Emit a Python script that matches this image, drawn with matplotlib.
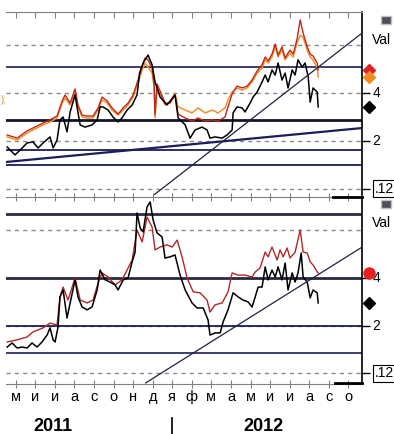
import numpy as np
import matplotlib
matplotlib.use('Agg')
import matplotlib.pyplot as plt
from matplotlib.patches import Rectangle

plt.rcParams['font.family'] = ['Liberation Sans', 'DejaVu Sans']

# months counted from May 2011 (0) to Oct 2012 (17)
month_labels = ['м', 'и', 'и', 'а', 'с', 'о', 'н', 'д', 'я', 'ф', 'м', 'а', 'м', 'и', 'и', 'а', 'с', 'о']
years = ['2011', '2012']
year_pos = [1.9, 12.65]

# ---- top panel series
top_black_x = [-0.44, -0.04, 0.22, 0.58, 0.88, 1.14, 1.40, 1.75, 1.91, 2.11, 2.26, 2.42, 2.62, 2.78, 3.03, 3.13,
               3.29, 3.54, 3.90, 4.16, 4.31, 4.46, 4.72, 4.97, 5.23, 5.43, 5.69, 5.95, 6.20, 6.33, 6.51, 6.76,
               6.97, 7.12, 7.38, 7.73, 8.14, 8.30, 8.66, 8.91, 9.17, 9.52, 9.78, 9.93, 10.19, 10.55, 10.80, 11.06,
               11.11, 11.31, 11.57, 11.72, 11.98, 12.13, 12.34, 12.59, 12.75, 12.90, 13.10, 13.26, 13.41, 13.61,
               13.77, 13.92, 14.13, 14.28, 14.43, 14.64, 14.79, 14.95, 15.05, 15.20, 15.41, 15.46]
top_black_y = [1.75, 1.42, 1.62, 1.92, 1.96, 1.71, 1.92, 2.17, 1.71, 2.04, 2.88, 3.00, 2.38, 3.21, 3.92, 3.42,
               2.67, 2.58, 2.67, 2.88, 3.42, 3.42, 3.29, 3.00, 2.79, 2.96, 3.29, 3.50, 3.92, 4.83, 5.25, 5.58,
               5.17, 4.46, 3.83, 3.50, 3.92, 2.96, 2.67, 2.12, 2.46, 2.58, 2.46, 2.12, 2.17, 2.12, 2.25, 2.46,
               3.17, 3.42, 3.38, 3.21, 3.58, 3.83, 4.04, 4.46, 4.75, 4.46, 4.96, 4.75, 5.25, 4.54,
               4.83, 4.21, 4.96, 4.75, 5.38, 5.08, 5.25, 4.67, 3.62, 4.21, 4.04, 3.42]

top_col_x = [-0.44, 0.07, 0.58, 0.88, 1.40, 1.75, 2.11, 2.37, 2.52, 2.78, 3.03, 3.18, 3.39, 3.65, 3.95, 4.21,
             4.41, 4.67, 4.92, 5.23, 5.49, 5.74, 6.00, 6.25, 6.46, 6.61, 6.76, 6.97, 7.07, 7.12, 7.22, 7.38,
             7.63, 7.89, 8.14, 8.30, 8.66, 9.01, 9.32, 9.68, 10.04, 10.34, 10.70, 10.85, 11.06, 11.31, 11.57,
             11.83, 12.08, 12.34, 12.59, 12.75, 12.90, 13.10, 13.26, 13.41, 13.61, 13.77, 14.02, 14.18, 14.38,
             14.54, 14.69, 14.90, 15.05, 15.20, 15.41, 15.46]
top_orange_y = [2.17, 2.04, 2.33, 2.46, 2.67, 2.79, 2.96, 3.58, 3.79, 3.50, 4.04, 3.42, 3.00, 2.96, 2.96, 3.29,
                3.71, 3.58, 3.29, 3.08, 3.29, 3.50, 3.83, 4.42, 4.96, 5.25, 5.08, 4.83, 4.25, 2.96, 4.25, 4.00,
                3.50, 3.62, 4.00, 3.42, 3.29, 3.17, 3.38, 3.17, 3.29, 3.17, 3.38, 3.71, 4.04, 4.21, 4.12,
                4.21, 4.46, 4.83, 5.04, 5.38, 5.25, 5.50, 5.92, 5.50, 5.79, 5.38, 5.67, 5.50, 6.08,
                6.40, 6.33, 5.79, 5.50, 5.38, 5.04, 4.67]
top_red_y = [2.25, 2.12, 2.42, 2.54, 2.75, 2.88, 3.04, 3.67, 3.92, 3.58, 4.17, 3.50, 3.08, 3.04, 3.04, 3.38,
             3.83, 3.67, 3.38, 3.12, 3.38, 3.58, 3.92, 4.54, 5.12, 5.46, 5.38, 5.00, 4.42, 3.10, 4.38, 4.08,
             3.58, 3.58, 3.92, 3.12, 2.96, 2.83, 2.96, 2.83, 2.88, 2.83, 3.00, 3.42, 3.96, 4.29, 4.21,
             4.29, 4.54, 4.92, 5.17, 5.50, 5.33, 5.62, 6.04, 5.58, 5.92, 5.46, 5.79, 5.62, 6.25,
             7.04, 6.50, 5.92, 5.62, 5.54, 5.25, 4.96]

# ---- bottom panel series
bot_black_x = [-0.44, -0.19, 0.07, 0.32, 0.58, 0.83, 1.09, 1.34, 1.60, 1.75, 1.91, 2.01, 2.16, 2.26, 2.42, 2.62,
               2.78, 3.03, 3.18, 3.39, 3.65, 3.90, 4.16, 4.31, 4.57, 4.82, 5.08, 5.23, 5.49, 5.74, 5.95, 6.10,
               6.20, 6.36, 6.51, 6.71, 6.87, 7.02, 7.22, 7.48, 7.63, 7.89, 8.14, 8.40, 8.66, 9.01, 9.27, 9.58,
               9.83, 9.93, 10.19, 10.45, 10.60, 10.85, 11.11, 11.37, 11.62, 11.88, 12.08, 12.24, 12.39, 12.59,
               12.75, 12.90, 13.10, 13.26, 13.41, 13.61, 13.77, 13.92, 14.13, 14.28, 14.43, 14.59, 14.69, 14.90,
               15.05, 15.20, 15.41, 15.46]
bot_black_y = [1.12, 1.29, 1.08, 1.12, 1.08, 1.29, 1.12, 1.33, 1.62, 1.92, 1.42, 1.33, 1.96, 3.21, 3.50, 2.33,
               2.96, 3.92, 3.21, 2.79, 2.67, 2.79, 3.50, 4.33, 3.92, 3.83, 3.71, 3.50, 3.92, 4.00, 4.67, 5.08,
               6.71, 6.08, 5.92, 6.96, 7.17, 6.42, 5.88, 5.71, 4.83, 4.88, 4.96, 4.12, 3.50, 2.96, 2.75, 2.75,
               2.25, 1.62, 1.71, 1.71, 2.17, 2.67, 3.38, 3.21, 3.08, 3.00, 2.79, 3.21, 3.62, 3.62,
               4.46, 3.92, 4.33, 4.04, 4.46, 3.92, 4.62, 3.50, 4.21, 3.83, 4.21, 5.04, 4.04, 3.83,
               3.17, 3.50, 3.38, 2.96]

bot_red_x = [-0.44, 0.07, 0.58, 0.88, 1.40, 1.75, 2.11, 2.26, 2.42, 2.67, 3.03, 3.29, 3.65, 3.95, 4.21, 4.41,
             4.72, 5.08, 5.43, 5.69, 5.95, 6.20, 6.46, 6.71, 6.97, 7.12, 7.38, 7.73, 8.00, 8.25, 8.50, 8.76,
             9.07, 9.42, 9.78, 9.93, 10.19, 10.55, 10.85, 11.06, 11.37, 11.72, 12.08, 12.24, 12.49, 12.75,
             12.90, 13.10, 13.36, 13.51, 13.67, 13.87, 14.02, 14.28, 14.54, 14.69, 14.90, 15.05, 15.20, 15.41, 15.46]
bot_red_y = [1.33, 1.42, 1.54, 1.75, 1.92, 2.12, 2.04, 3.21, 3.62, 3.08, 4.00, 3.08, 2.96, 3.08, 3.79, 4.21,
             4.04, 3.71, 3.92, 4.33, 4.75, 6.00, 5.50, 6.54, 6.12, 5.17, 5.29, 5.38, 5.29, 5.58, 4.88, 4.00,
             3.42, 3.38, 3.08, 2.58, 2.88, 2.96, 3.42, 4.21, 4.12, 4.12, 4.04, 4.25, 4.42, 5.08,
             4.88, 5.29, 4.75, 5.17, 4.88, 5.25, 4.83, 5.08, 6.00, 5.08, 5.04, 4.67, 4.54, 4.25, 4.21]

# support / resistance levels and trend lines
top_levels = [5.08, 2.875, 1.625, 1.0]
top_level_w = [1.2, 2.0, 1.3, 1.3]
bot_levels = [6.67, 4.0, 2.0, 0.875]
bot_level_w = [2.0, 2.0, 1.3, 1.2]
top_trend1 = ([-0.5, 17.7], [1.125, 2.54])
top_trend2 = ([6.95, 17.69], [-0.32, 6.49])
bot_trend = ([6.64, 17.69], [-0.375, 5.28])
grid_levels = [6, 4, 2, 0.02]

W, H = 394, 434
fig = plt.figure(figsize=(W / 100, H / 100), dpi=100)
ax1 = fig.add_axes([6 / W, 1 - 195 / H, 356 / W, 183 / H])
ax2 = fig.add_axes([6 / W, 1 - 384 / H, 356 / W, 187 / H])

navy = '#1c1c58'
for ax in (ax1, ax2):
    ax.set_xlim(-0.5, 17.7)
    for g in grid_levels:
        ax.axhline(g, color='#8a8a8a', lw=1, ls=(0, (3, 3)), zorder=1)
    ax.set_xticks(range(18))
    ax.spines['left'].set_visible(False)
    ax.spines['right'].set_color('black')
    ax.spines['right'].set_linewidth(1.2)
    ax.spines['top'].set_color('#808080')
    ax.spines['bottom'].set_color('#808080')
    ax.set_yticks([4, 2, 0.02])
    ax.yaxis.tick_right()
    ax.tick_params(axis='y', direction='out', length=6, width=1, color='black', labelright=False)
    ax.text(1.03, 4, '4', transform=ax.get_yaxis_transform(), fontsize=10, va='center', ha='left')
    ax.text(1.03, 2, '2', transform=ax.get_yaxis_transform(), fontsize=10, va='center', ha='left')
    ax.text(1.035, 0.02, '.12', transform=ax.get_yaxis_transform(), fontsize=10, va='center', ha='left',
            bbox=dict(boxstyle='square,pad=0.12', fc='white', ec='black', lw=0.8))

ax1.set_ylim(-0.25, 7.375)
ax2.set_ylim(-0.42, 7.375)

# top panel
for lv, lw in zip(top_levels, top_level_w):
    ax1.axhline(lv, color=navy if lw < 2 else '#15152a', lw=lw, zorder=2)
ax1.plot(*top_trend1, color=navy, lw=1.6, zorder=2)
ax1.plot(*top_trend2, color='#202040', lw=0.9, zorder=5)
ax1.plot(top_col_x, top_orange_y, color='#f0902a', lw=1.1, zorder=3)
ax1.plot(top_col_x, top_red_y, color='#c02818', lw=1.0, zorder=3)
ax1.plot(top_black_x, top_black_y, color='black', lw=1.1, zorder=4)
ax1.spines['bottom'].set_visible(False)
ax1.tick_params(axis='x', top=True, bottom=False, direction='in', length=4, color='#808080',
                labelbottom=False)
ax1.plot([18.06], [top_red_y[-1]], marker='D', color='#e02020', ms=6, clip_on=False, zorder=6)
ax1.plot([18.06], [top_orange_y[-1]], marker='D', color='#f08c20', ms=6, clip_on=False, zorder=6)
ax1.plot([18.06], [top_black_y[-1]], marker='D', color='black', ms=6, clip_on=False, zorder=6)
fig.text(4 / W, 1 - 100 / H, ');', color='#e09040', fontsize=7, va='center', ha='center')

# bottom panel
for lv, lw in zip(bot_levels, bot_level_w):
    ax2.axhline(lv, color=navy if lw < 2 else '#2a2a40', lw=lw, zorder=2)
ax2.plot(*bot_trend, color='#202048', lw=0.9, zorder=5)
ax2.plot(bot_red_x, bot_red_y, color='#b02828', lw=1.0, zorder=3)
ax2.plot(bot_black_x, bot_black_y, color='black', lw=1.1, zorder=4)
ax2.tick_params(axis='x', top=True, bottom=True, direction='inout', length=6, color='#808080', pad=1)
ax2.set_xticklabels(month_labels, fontsize=10.5)
ax2.plot([18.08], [bot_red_y[-1]], marker='o', color='#e82020', ms=8, clip_on=False, zorder=6)
ax2.plot([18.08], [bot_black_y[-1]], marker='D', color='black', ms=6, clip_on=False, zorder=6)
for yr, p in zip(years, year_pos):
    ax2.text(p, -0.228, yr, transform=ax2.get_xaxis_transform(), fontsize=13, fontweight='bold',
             ha='center', va='center')
ax2.plot([8, 8], [-0.18, -0.285], transform=ax2.get_xaxis_transform(), color='black', lw=1.2, clip_on=False)

# small legend widgets on the right
for ytop in (16, 200):
    fig.patches.append(Rectangle((381 / W, 1 - (ytop + 8) / H), 10 / W, 8 / H, transform=fig.transFigure,
                                 fc='#505058', ec='#c0c0c0', lw=1))
fig.text(372 / W, 1 - 40 / H, 'Val', fontsize=10, va='center', ha='left')
fig.text(372 / W, 1 - 223 / H, 'Val', fontsize=10, va='center', ha='left')
fig.lines.append(plt.Line2D([333 / W, 362 / W], [1 - 197 / H, 1 - 197 / H], transform=fig.transFigure,
                            color='black', lw=2))
fig.lines.append(plt.Line2D([335 / W, 362 / W], [1 - 383 / H, 1 - 383 / H], transform=fig.transFigure,
                            color='black', lw=2))

fig.savefig('out.png', dpi=100)
